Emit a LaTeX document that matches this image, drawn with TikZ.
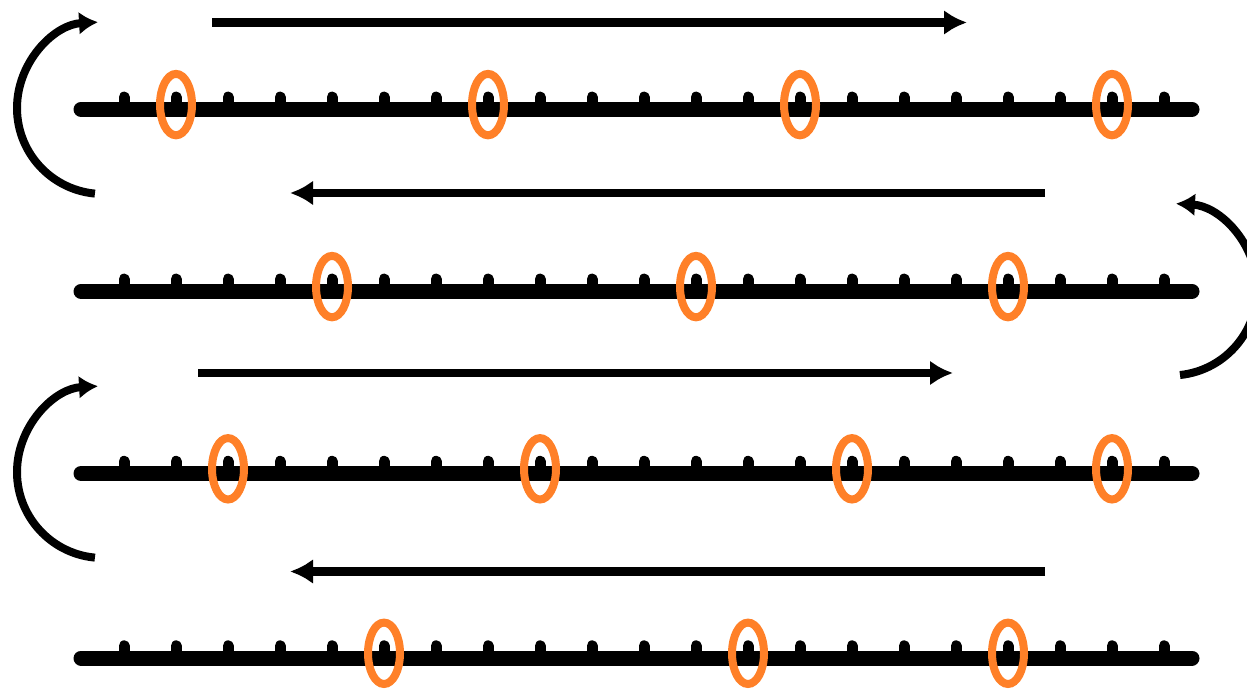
\documentclass[tikz,border=0pt]{standalone}
\usetikzlibrary{arrows.meta}
\definecolor{ringorange}{RGB}{255,128,40}
\begin{document}
\begin{tikzpicture}[x=1pt,y=1pt,
  axisline/.style={line width=15pt,line cap=round},
  tickmark/.style={line width=11pt,line cap=round},
  ring/.style={draw=ringorange,line width=8pt},
  flowarrow/.style={line width=8.5pt,-{Latex[length=23pt,width=25pt]}},
  turnarrow/.style={line width=8pt,-{Latex[length=19pt,width=23pt]}}]
\clip (0,0) rectangle (1247,688);
% rows with ticks
\foreach \r/\y/\ks in {1/578.7/{1,7,13,19},2/396.7/{4,11,17},3/214.5/{2,8,14,19},4/30/{5,12,17}}{
  \coordinate (L\r) at (81,\y);
  \coordinate (R\r) at (1192,\y);
  \draw[axisline] (L\r) -- (R\r);
  \foreach \k in {0,...,20}{
    \draw[tickmark] (124+52*\k,\y) -- (124+52*\k,\y+12.2);
  }
  \foreach \k in \ks{
    \draw[ring] (124+52*\k,\y+4.7) ellipse[x radius=16pt,y radius=30.7pt];
  }
}
% straight direction arrows
\coordinate (a1s) at (212,665.5);  \coordinate (a1e) at (967,665.5);
\coordinate (a2s) at (1045,495);   \coordinate (a2e) at (290,495);
\coordinate (a3s) at (198,315);    \coordinate (a3e) at (953,315);
\coordinate (a4s) at (1045,116.5); \coordinate (a4e) at (290,116.5);
\draw[flowarrow] (a1s) -- (a1e);
\draw[flowarrow] (a2s) -- (a2e);
\draw[flowarrow] (a3s) -- (a3e);
\draw[flowarrow] (a4s) -- (a4e);
% turning arrows
\coordinate (c1) at (103,580);
\coordinate (c2) at (1171,398.5);
\coordinate (c3) at (103,216);
\draw[turnarrow] ([shift={(264.6:86pt)}]c1) arc[start angle=264.6,end angle=93.3,radius=86pt];
\draw[turnarrow] ([shift={(-84:86pt)}]c2) arc[start angle=-84,end angle=86.7,radius=86pt];
\draw[turnarrow] ([shift={(264.6:86pt)}]c3) arc[start angle=264.6,end angle=93.3,radius=86pt];
\end{tikzpicture}
\end{document}
